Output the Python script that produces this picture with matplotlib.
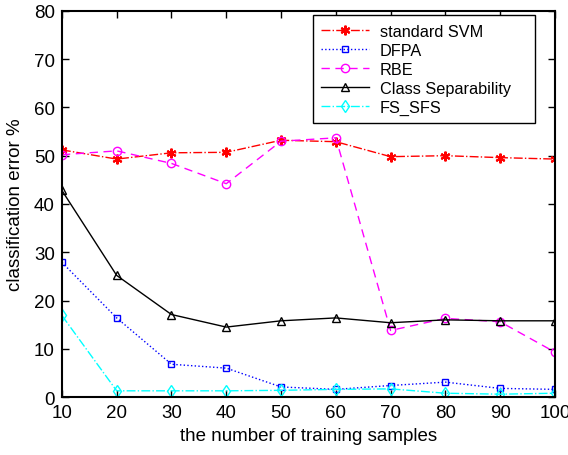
import matplotlib
matplotlib.use("Agg")
import matplotlib.pyplot as plt

plt.rcParams['font.family'] = ['Liberation Sans', 'DejaVu Sans']

samples = [10, 20, 30, 40, 50, 60, 70, 80, 90, 100]
svm = [51.2, 49.3, 50.6, 50.7, 53.2, 52.9, 49.8, 50.0, 49.6, 49.3]
dfpa = [27.9, 16.4, 6.8, 6.0, 2.1, 1.6, 2.4, 3.1, 1.8, 1.6]
rbe = [50.2, 51.0, 48.4, 44.2, 53.0, 53.7, 13.8, 16.3, 15.6, 9.3]
class_sep = [42.8, 25.2, 17.1, 14.5, 15.8, 16.4, 15.4, 16.0, 15.8, 15.8]
fs_sfs = [16.9, 1.3, 1.3, 1.3, 1.4, 1.6, 1.7, 0.8, 0.6, 0.8]

fig = plt.figure(figsize=(5.68, 4.56), dpi=100)
ax = fig.add_axes([0.109, 0.127, 0.868, 0.847])

ax.plot(samples, svm, color='red', linestyle='-.', marker=(6, 2, 0), markersize=7,
        markeredgewidth=1.5, linewidth=1, label='standard SVM')
ax.plot(samples, dfpa, color='blue', linestyle=':', marker='s', markersize=5,
        markerfacecolor='none', linewidth=1, label='DFPA')
ax.plot(samples, rbe, color='magenta', linestyle=(0, (6, 4)), marker='o', markersize=6,
        markerfacecolor='none', linewidth=1, label='RBE')
ax.plot(samples, class_sep, color='black', linestyle='-', marker='^', markersize=6,
        markerfacecolor='none', linewidth=1, label='Class Separability')
ax.plot(samples, fs_sfs, color='cyan', linestyle='-.', marker='d', markersize=6,
        markerfacecolor='none', linewidth=1, label='FS_SFS')

ax.set_xlim(10, 100)
ax.set_ylim(0, 80)
ax.set_xticks(samples)
ax.set_yticks(range(0, 81, 10))
ax.tick_params(direction='in', top=True, right=True, labelsize=13.5,
               length=5, width=1, pad=5)
for s in ax.spines.values():
    s.set_linewidth(1.5)

ax.set_xlabel('the number of training samples', fontsize=13.5, labelpad=4)
ax.set_ylabel('classification error %', fontsize=13.5, labelpad=7)

leg = ax.legend(loc='upper left', bbox_to_anchor=(0.5085, 0.0, 0.4509, 0.988),
                mode='expand', borderaxespad=0,
                fontsize=11.7, frameon=True, fancybox=False, edgecolor='black',
                framealpha=1, handlelength=3.0, handletextpad=0.65,
                borderpad=0.5, labelspacing=0.25)
leg.get_frame().set_linewidth(1)

fig.savefig('out.png', dpi=100)
